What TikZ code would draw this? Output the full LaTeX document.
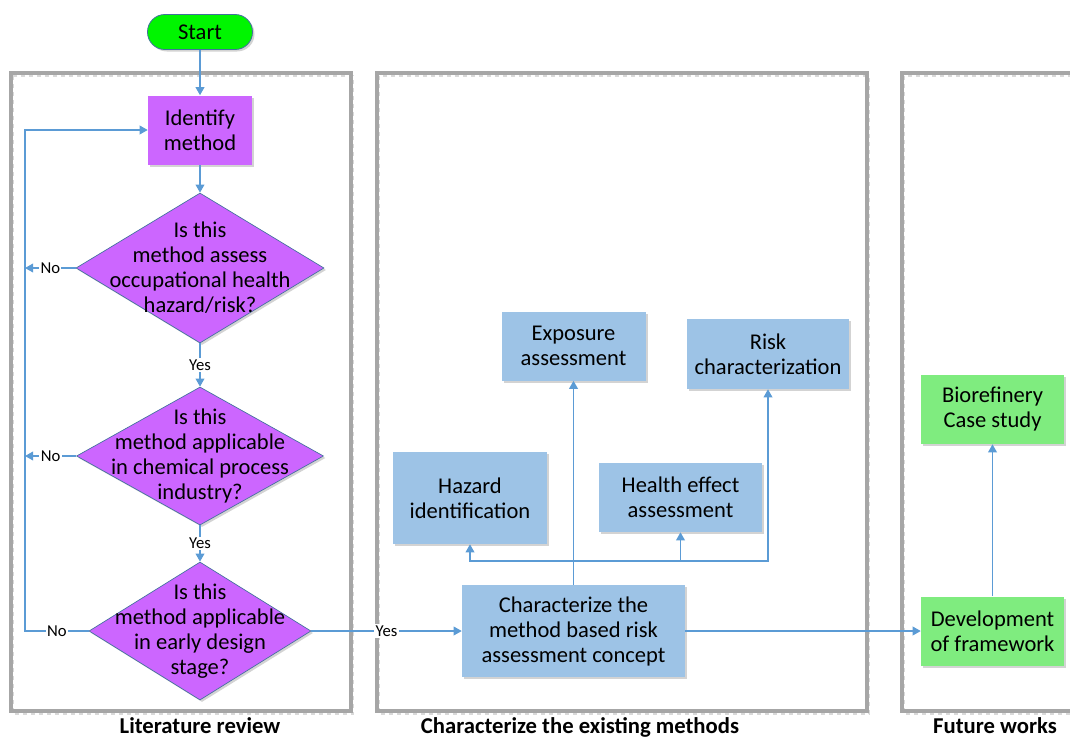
\documentclass[tikz,border=0pt]{standalone}
\usepackage{fontspec}
\setmainfont{Carlito}
\usepackage{tikz}
\usetikzlibrary{arrows,arrows.meta,calc,shapes.geometric,shadows,backgrounds,positioning}

\definecolor{flowblue}{HTML}{5B9BD5}
\definecolor{edgeblue}{HTML}{41719C}
\definecolor{violetfill}{HTML}{CC66FF}
\definecolor{bluefill}{HTML}{9DC3E6}
\definecolor{greenfill}{HTML}{7FEC7F}
\definecolor{startgreen}{HTML}{00F500}
\definecolor{panelgray}{HTML}{A6A6A6}

\begin{document}
\begin{tikzpicture}[x=0.75pt,y=-0.75pt,
    txt/.style={font=\fontsize{16.9}{18.75}\selectfont, align=center, inner sep=0pt},
    yn/.style={font=\fontsize{12.5}{14}\selectfont, fill=white, inner sep=1pt},
    heading/.style={font=\fontsize{17}{20}\selectfont\bfseries},
    shade/.style={drop shadow={shadow xshift=1.5pt, shadow yshift=-1.5pt, opacity=0.35, fill=gray}},
    startbox/.style={txt, rectangle, rounded corners=13pt, fill=startgreen, draw=edgeblue, line width=0.6pt, shade},
    violetbox/.style={txt, rectangle, fill=violetfill, shade},
    decision/.style={diamond, inner sep=0pt, fill=violetfill, draw=edgeblue, line width=0.5pt, shade},
    bluebox/.style={txt, rectangle, fill=bluefill, shade},
    greenbox/.style={txt, rectangle, fill=greenfill, shade},
    flow/.style={draw=flowblue, line width=1pt, -{Triangle[length=6pt,width=6.5pt]}},
    panel/.style={draw=panelgray, line width=2.3pt},
    panelshade/.style={draw=gray!30, line width=1.2pt, dashed}]
    \pgfmathsetmacro{\u}{0.75}

    \useasboundingbox (0,0) rectangle (1070,740);
    \clip (0,0) rectangle (1070,740);

    \draw[panelshade] (13,76) rectangle (353,714);
    \draw[panel] (11,73) rectangle (351,711);
    \draw[panelshade] (379,76) rectangle (869,714);
    \draw[panel] (377,73) rectangle (867,711);
    \draw[panelshade] (904,76) rectangle (1090,714);
    \draw[panel] (902,73) rectangle (1090,711);

    \node[heading, anchor=base] (litrev) at (200,733) {Literature review};
    \node[heading, anchor=base] (charexist) at (580,733) {Characterize the existing methods};
    \node[heading, anchor=base] (future) at (995,733) {Future works};

    \node[startbox, minimum width=\u*105pt, minimum height=\u*35pt] (start) at (200,32) {Start};
    \node[violetbox, minimum width=\u*104pt, minimum height=\u*69pt] (ident) at (200,130) {Identify\\method};

    \node[decision, minimum width=\u*248pt, minimum height=\u*150pt] (qa) at (200,268) {};
    \node[txt] (qa-t) at (qa) {Is this\\method assess\\occupational health\\hazard/risk?};
    \node[decision, minimum width=\u*247pt, minimum height=\u*138pt] (qb) at (200,456) {};
    \node[txt] (qb-t) at (qb) {Is this\\method applicable\\in chemical process\\industry?};
    \node[decision, minimum width=\u*222pt, minimum height=\u*138pt] (qc) at (200,631) {};
    \node[txt] (qc-t) at (qc) {Is this\\method applicable\\in early design\\stage?};

    \node[bluebox, minimum width=\u*223pt, minimum height=\u*92pt] (charac) at (573.5,631) {Characterize the\\method based risk\\assessment concept};
    \node[bluebox, minimum width=\u*154pt, minimum height=\u*92pt] (haz) at (470,498) {Hazard\\identification};
    \node[bluebox, minimum width=\u*144pt, minimum height=\u*69pt] (expo) at (573.5,346) {Exposure\\assessment};
    \node[bluebox, minimum width=\u*163pt, minimum height=\u*69pt] (health) at (680.5,497.5) {Health effect\\assessment};
    \node[bluebox, minimum width=\u*162pt, minimum height=\u*70pt] (risk) at (768,354) {Risk\\characterization};

    \node[greenbox, minimum width=\u*143pt, minimum height=\u*69pt] (dev) at (992.5,631) {Development\\of framework};
    \node[greenbox, minimum width=\u*143pt, minimum height=\u*69pt] (bio) at (992.5,409.5) {Biorefinery\\Case study};

    \draw[flow] (start) -- (ident);
    \draw[flow] (ident) -- (qa);
    \draw[flow] (qa) -- node[yn] {Yes} (qb);
    \draw[flow] (qb) -- node[yn] {Yes} (qc);
    \draw[flow] (qc) -- node[yn] {Yes} (charac);

    \coordinate (rail) at (25,130);
    \draw[flow] (qa.west) -- node[yn] {No} (qa.west -| rail);
    \draw[flow] (qb.west) -- node[yn] {No} (qb.west -| rail);
    \draw[flow] (qc.west) -- node[yn] {No} (qc.west -| rail) |- (ident.west);

    \coordinate (hub) at (573.5,561);
    \draw[flow] (charac) -- (expo);
    \draw[flow] (hub) -| (haz.south);
    \draw[flow] (hub) -| (risk.south);
    \draw[flow] (hub -| health.south) -- (health.south);

    \draw[flow] (charac) -- (dev);
    \draw[flow] (dev) -- (bio);
\end{tikzpicture}
\end{document}
